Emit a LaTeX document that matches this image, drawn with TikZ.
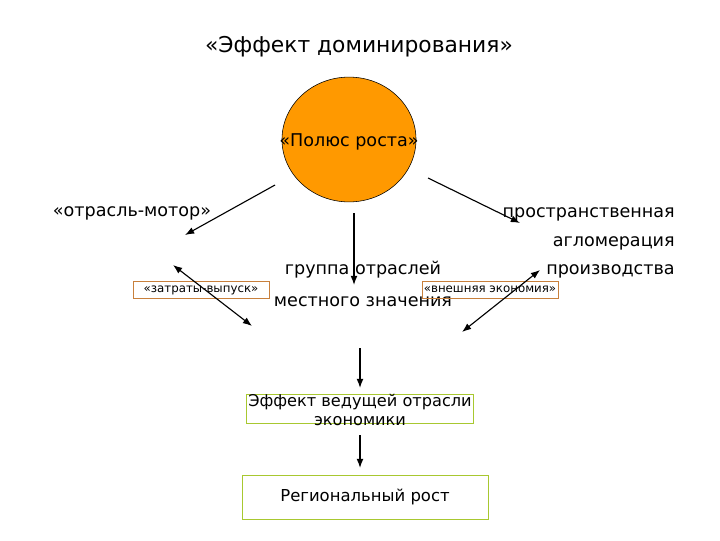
\documentclass[tikz,border=0pt]{standalone}
\usepackage{fontspec}
\setmainfont{DejaVu Sans}
\usepackage{tikz}
\usetikzlibrary{arrows.meta, positioning, shapes.geometric}

\definecolor{poleorange}{HTML}{FF9900}
\definecolor{boxbrown}{HTML}{C8803C}
\definecolor{boxgreen}{HTML}{A8C830}

\begin{document}
\begin{tikzpicture}[x=0.025cm, y=-0.025cm,
    t/.style={inner sep=0pt, font=\fontsize{12.5}{15}\selectfont},
    small/.style={draw=boxbrown, inner sep=0pt, font=\fontsize{8.4}{9}\selectfont,
      minimum width=3.4cm, minimum height=0.42cm},
    gbox/.style={draw=boxgreen, inner sep=0pt, font=\fontsize{11.7}{13}\selectfont},
    arr/.style={-{Latex[length=2.3mm]}, thick},
    darr/.style={{Latex[length=2.3mm]}-{Latex[length=2.3mm]}, thick}]
    \useasboundingbox (0,0) rectangle (720,540);
    % title and pole
    \node[t, font=\fontsize{15.5}{18}\selectfont] (title) at (359,47) {«Эффект доминирования»};
    \node[ellipse, draw, fill=poleorange, minimum width=3.35cm, minimum height=3.12cm] (pole) at (349,139.5) {};
    \node[t] (poletxt) at (349,142) {«Полюс роста»};
    % three effects
    \node[t] (motor) at (132,213) {«отрасль-мотор»};
    \node[t, align=center, font=\fontsize{12.5}{22.5}\selectfont] (local) at (363,284) {группа отраслей\\местного значения};
    \node[t, align=right, anchor=east, font=\fontsize{12.5}{20.5}\selectfont] (agglo) at (675,243) {пространственная\\агломерация\\производства};
    \node[small] (io) at (201,290) {«затраты-выпуск»};
    \node[small] (ext) at (490,289.5) {«внешняя экономия»};
    % result chain
    \node[gbox, minimum width=5.675cm, minimum height=0.725cm] (lead) at (359.5,408.5) {};
    \node[t, align=center, font=\fontsize{11.5}{14}\selectfont] (leadtxt) at (360,410) {Эффект ведущей отрасли\\экономики};
    \node[gbox, minimum width=6.15cm, minimum height=1.1cm] (growth) at (365,497) {Региональный рост};
    % arrow ends
    \coordinate (p1) at (275,185);
    \coordinate (m1) at (185,235);
    \coordinate (p2) at (354,213);
    \coordinate (g1) at (354,285);
    \coordinate (p3) at (428,178);
    \coordinate (a1) at (520,223);
    \coordinate (io1) at (173,265);
    \coordinate (io2) at (252,326);
    \coordinate (ex1) at (540,270);
    \coordinate (ex2) at (462,332);
    \coordinate (c1) at (360,348);
    \coordinate (c2) at (360,388);
    \coordinate (c3) at (360,435);
    \coordinate (c4) at (360,468);
    \draw[arr] (p1) -- (m1);
    \draw[arr] (p2) -- (g1);
    \draw[arr] (p3) -- (a1);
    \draw[darr] (io1) -- (io2);
    \draw[darr] (ex1) -- (ex2);
    \draw[arr] (c1) -- (c2);
    \draw[arr] (c3) -- (c4);
\end{tikzpicture}
\end{document}
